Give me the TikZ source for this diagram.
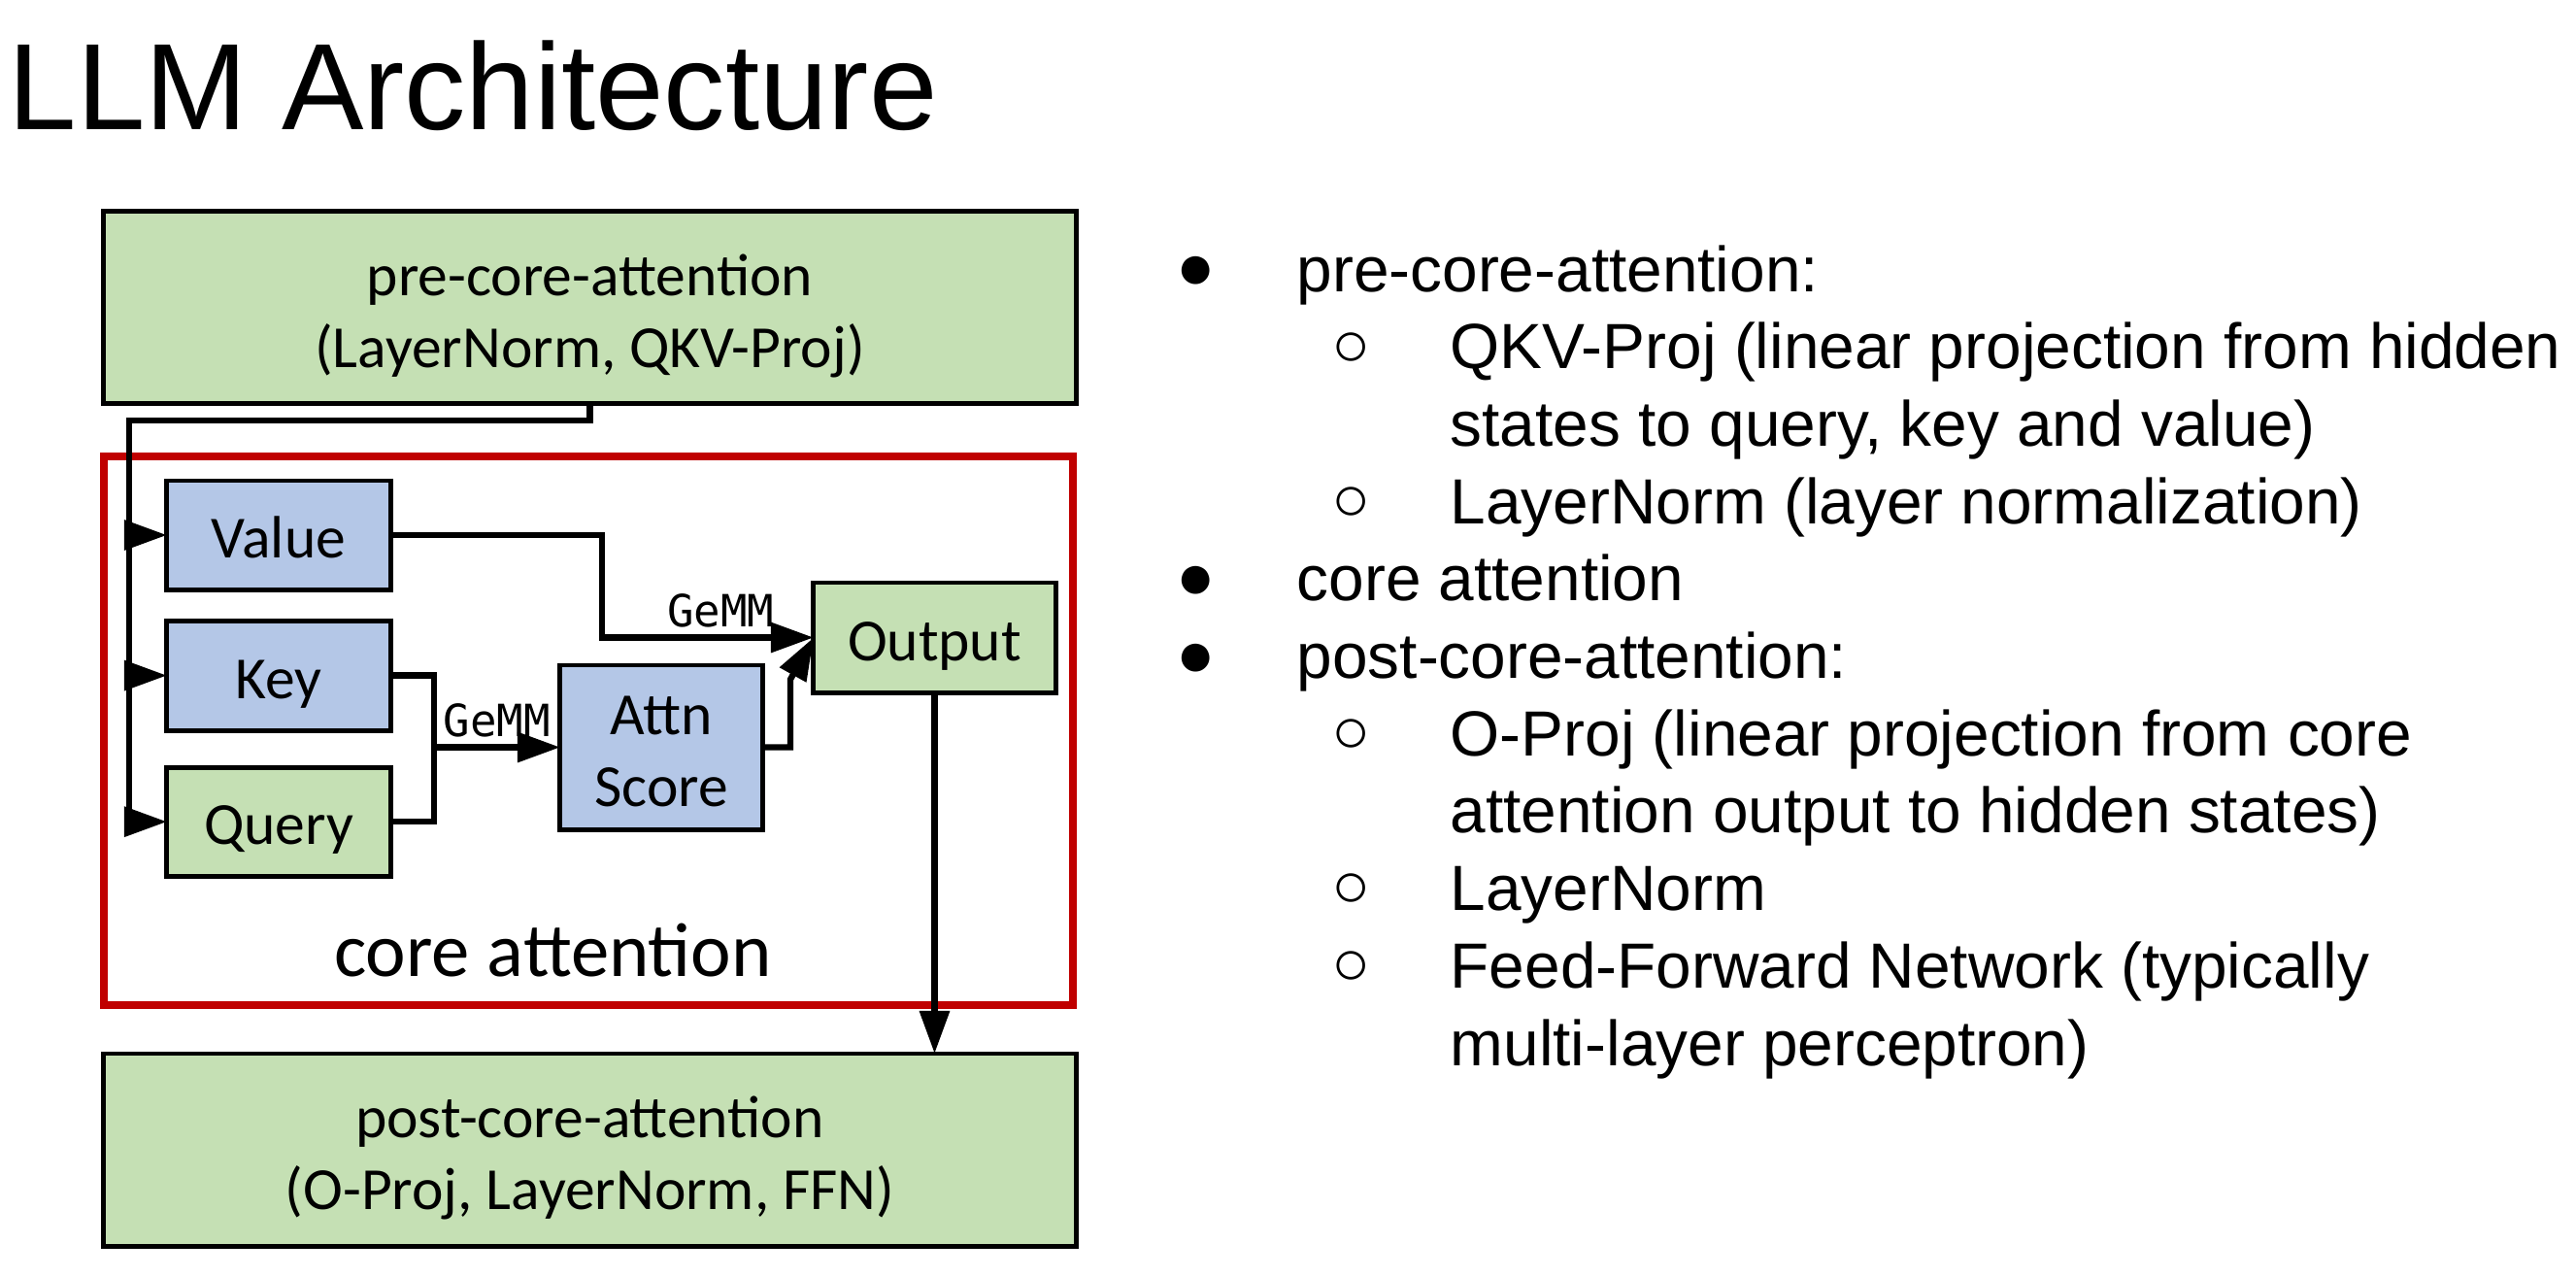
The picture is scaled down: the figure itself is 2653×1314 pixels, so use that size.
\documentclass[tikz,border=0pt]{standalone}
\usepackage{fontspec}
\setmainfont{Liberation Sans}
\newfontfamily\calibri{Carlito}
\newfontfamily\codefont{DejaVu Sans Mono}
\usetikzlibrary{arrows.meta,positioning}

\definecolor{boxgreen}{HTML}{C5E0B4}
\definecolor{boxblue}{HTML}{B4C7E7}
\definecolor{corered}{HTML}{C00000}

\newcommand{\lowerby}[1]{\rule{0pt}{#1}}

\tikzset{
	block/.style={draw=black,line width=1.4pt,inner sep=0pt,outer sep=0pt,align=center,
		font=\calibri\fontsize{17.5}{21}\selectfont},
	greenblock/.style={block,fill=boxgreen},
	blueblock/.style={block,fill=boxblue},
	oneline/.style={text height=13.4pt,text depth=0pt},
	link/.style={draw=black,line width=1.8pt},
	gemm/.style={inner sep=0pt,font=\codefont\fontsize{13}{15}\selectfont},
	item/.style={anchor=base west,inner sep=0pt,font=\fontsize{18.7}{22}\selectfont},
	dot/.style={inner sep=0pt,font=\fontsize{19}{19}\selectfont}
}

\begin{document}
\begin{tikzpicture}[x=0.01cm,y=-0.01cm,>={Triangle[length=0.44cm,width=0.3cm]}]
	\useasboundingbox (0,0) rectangle (2653,1314);

	\node[anchor=base west,inner sep=0pt,font=\fontsize{36}{40}\selectfont] (title) at (8,133) {LLM Architecture};

	\node[greenblock,minimum width=10.01cm,minimum height=1.97cm] (pre) at (607.5,316.5) {\lowerby{17pt}pre-core-attention\\(LayerNorm, QKV-Proj)};
	\node[draw=corered,line width=2.3pt,minimum width=9.98cm,minimum height=5.65cm] (core) at (606,752.5) {};
	\node[anchor=base,inner sep=0pt,font=\calibri\fontsize{22.4}{26}\selectfont] (corename) at (569.5,1005) {core attention};

	\node[blueblock,oneline,minimum width=2.3cm,minimum height=1.12cm] (value) at (287,551) {Value};
	\node[blueblock,oneline,minimum width=2.3cm,minimum height=1.13cm] (key) [below=0.32cm of value] {Key};
	\node[greenblock,oneline,minimum width=2.3cm,minimum height=1.12cm] (query) [below=0.38cm of key] {Query};
	\node[blueblock,minimum width=2.08cm,minimum height=1.69cm] (attn) at (681,769.5) {\lowerby{13.6pt}Attn\\Score};
	\node[greenblock,oneline,minimum width=2.49cm,minimum height=1.13cm] (output) at (962.5,656.5) {Output};
	\node[greenblock,minimum width=10.01cm,minimum height=1.98cm] (post) at (607.5,1184) {\lowerby{17pt}post-core-attention\\(O-Proj, LayerNorm, FFN)};

	\coordinate (split) at (133,433);
	\coordinate (merge) at (447,769.5);

	\draw[link,->] (pre.south) |- (split) |- (query.west);
	\draw[link,->] (split |- value.west) -- (value.west);
	\draw[link,->] (split |- key.west) -- (key.west);
	\draw[link] (key.east) -| (merge);
	\draw[link] (query.east) -| (merge);
	\draw[link,->] (merge) -- (attn.west) node[gemm,midway,above=2pt] (gemmqk) {GeMM};
	\draw[link,->] (value.east) -- ++(218,0) |- (output.west) node[gemm,pos=0.78,above=2pt] (gemmv) {GeMM};
	\draw[link,->] (attn.east) -- ++(29,0) -- ++(0,-70) -- (output.west);
	\draw[link,->] (output.south) -- (output.south |- post.north);

	\node[dot] (d1) at (1232,281) {●};
	\node[item] (l1) at (1335,300) {pre-core-attention:};
	\node[dot] (d2) at (1392,359.7) {○};
	\node[item] (l2) at (1493,379.7) {QKV-Proj (linear projection from hidden};
	\node[item] (l3) at (1493,459.4) {states to query, key and value)};
	\node[dot] (d3) at (1392,519.1) {○};
	\node[item] (l4) at (1493,539.1) {LayerNorm (layer normalization)};
	\node[dot] (d4) at (1232,599.8) {●};
	\node[item] (l5) at (1335,618.8) {core attention};
	\node[dot] (d5) at (1232,679.5) {●};
	\node[item] (l6) at (1335,698.5) {post-core-attention:};
	\node[dot] (d6) at (1392,758.2) {○};
	\node[item] (l7) at (1493,778.2) {O-Proj (linear projection from core};
	\node[item] (l8) at (1493,857.9) {attention output to hidden states)};
	\node[dot] (d7) at (1392,917.6) {○};
	\node[item] (l9) at (1493,937.6) {LayerNorm};
	\node[dot] (d8) at (1392,997.3) {○};
	\node[item] (l10) at (1493,1017.3) {Feed-Forward Network (typically};
	\node[item] (l11) at (1493,1097) {multi-layer perceptron)};
\end{tikzpicture}
\end{document}
